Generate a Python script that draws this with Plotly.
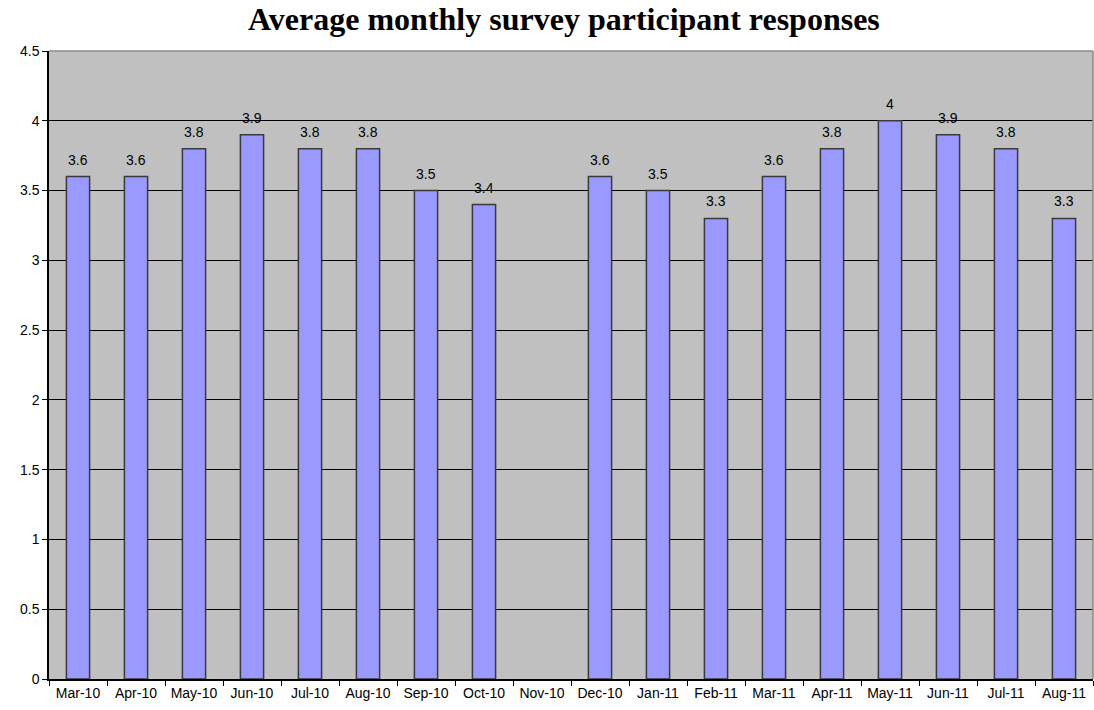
import plotly.graph_objects as go

months = ["Mar-10", "Apr-10", "May-10", "Jun-10", "Jul-10", "Aug-10", "Sep-10", "Oct-10",
          "Nov-10", "Dec-10", "Jan-11", "Feb-11", "Mar-11", "Apr-11", "May-11", "Jun-11",
          "Jul-11", "Aug-11"]
values = [3.6, 3.6, 3.8, 3.9, 3.8, 3.8, 3.5, 3.4, None, 3.6, 3.5, 3.3, 3.6, 3.8, 4, 3.9, 3.8, 3.3]
y_ticks = [0, 0.5, 1, 1.5, 2, 2.5, 3, 3.5, 4, 4.5]
y_ticktext = ["0", "0.5", "1", "1.5", "2", "2.5", "3", "3.5", "4", "4.5"]

FONT = "Liberation Sans, Arial"

fig = go.Figure(go.Bar(
    x=months, y=values,
    marker=dict(color="#9999FF", line=dict(color="#3a3a3a", width=1.5)),
    cliponaxis=False,
))

# value labels above bars
for m, v in zip(months, values):
    if v is None:
        continue
    fig.add_annotation(x=m, y=v, xref="x", yref="y", text=f"{v:g}", showarrow=False,
                       yanchor="middle", yshift=17,
                       font=dict(family=FONT, size=14, color="#000000"))

fig.update_layout(
    width=1094, height=710,
    margin=dict(l=49, r=1, t=51, b=31),
    paper_bgcolor="#FFFFFF", plot_bgcolor="#C0C0C0",
    bargap=0.6,
    showlegend=False,
    title=dict(text="<b>Average monthly survey participant responses</b>",
               x=0.5155, xanchor="center", y=0.974, yanchor="middle",
               font=dict(family="Liberation Serif, Times New Roman", size=32, color="#000000")),
    font=dict(family=FONT, size=14, color="#000000"),
)
fig.update_xaxes(
    type="category", tickson="boundaries", ticks="outside", ticklen=5, tickcolor="#000000",
    showline=True, linecolor="#000000", linewidth=1.5, showgrid=False,
    tickfont=dict(family=FONT, size=14), tickangle=0,
)
fig.update_yaxes(
    range=[0, 4.5], tickvals=y_ticks, ticktext=y_ticktext, ticks="outside", ticklen=5,
    tickcolor="#000000", showline=True, linecolor="#000000", linewidth=1.5,
    showgrid=True, gridcolor="#000000", gridwidth=1, zeroline=False,
    tickfont=dict(family=FONT, size=14),
)
fig.add_shape(type="line", xref="paper", yref="paper", x0=0, x1=1, y0=1, y1=1,
              line=dict(color="#8a8a8a", width=1.5))
fig.add_shape(type="line", xref="paper", yref="paper", x0=1, x1=1, y0=0, y1=1,
              line=dict(color="#8a8a8a", width=1.5))

fig.write_html("out.html", config={"displayModeBar": False},
               post_script="document.body.style.margin='0';")
